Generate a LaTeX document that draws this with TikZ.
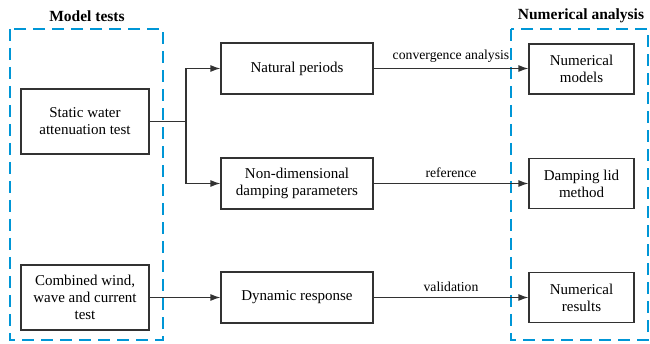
\documentclass[tikz,border=0pt]{standalone}
\usepackage{fontspec}
\setmainfont{Liberation Serif}
\newfontfamily\tms{Liberation Serif}
\usetikzlibrary{arrows.meta}
\definecolor{dashblue}{RGB}{0,150,214}
\definecolor{linegray}{RGB}{50,50,50}
\begin{document}
\begin{tikzpicture}[x=1pt,y=-1pt,
  boxa/.style={draw=linegray,line width=1.2pt,minimum width=128pt,minimum height=65pt,align=center,inner sep=2pt,font=\tms\fontsize{15}{17}\selectfont},
  boxb/.style={draw=linegray,line width=1.2pt,minimum width=152pt,minimum height=51pt,align=center,inner sep=2pt,font=\tms\fontsize{15}{17}\selectfont},
  boxc/.style={draw=linegray,line width=1.2pt,minimum width=105pt,minimum height=50pt,align=center,inner sep=2pt,font=\tms\fontsize{15}{17}\selectfont},
  grp/.style={draw=dashblue,line width=2.6pt,dash pattern=on 12pt off 7pt},
  ttl/.style={font=\tms\bfseries\fontsize{15.5}{18}\selectfont},
  lbl/.style={font=\tms\fontsize{13.7}{16}\selectfont},
  conn/.style={draw=linegray,line width=1.2pt},
  arr/.style={conn,-{Latex[length=10pt,width=7pt]}}
]
\useasboundingbox (0,0) rectangle (650,344);
\draw[grp] (10,29) rectangle (163,340);
\draw[grp] (511,29) rectangle (648,340);
\node[ttl] (t1) at (87,16) {Model tests};
\node[ttl] (t2) at (581,16) {Numerical analysis};
\node[boxa] (sw) at (85,121.5) {Static water\\attenuation test};
\node[boxa] (cw) at (85,297.5) {Combined wind,\\wave and current\\test};
\node[boxb] (np) at (297,68.5) {Natural periods};
\node[boxb] (nd) at (297,183.5) {Non-dimensional\\damping parameters};
\node[boxb] (dr) at (297,297.5) {Dynamic response};
\node[boxc] (nm) at (581.5,69) {Numerical\\models};
\node[boxc] (dl) at (581.5,183.5) {Damping lid\\method};
\node[boxc] (nr) at (581.5,297.5) {Numerical\\results};
\coordinate (j) at (186,121.5);
\draw[conn] (sw.east) -- (j);
\draw[arr] (j) |- (np.west);
\draw[arr] (j) |- (nd.west);
\draw[arr] (cw.east) -- (dr.west);
\draw[arr] (np.east) -- node[lbl,above=2pt] {convergence analysis} (np.east -| nm.west);
\draw[arr] (nd.east) -- node[lbl,above=2pt] {reference} (dl.west);
\draw[arr] (dr.east) -- node[lbl,above=2pt] {validation} (nr.west);
\end{tikzpicture}
\end{document}
